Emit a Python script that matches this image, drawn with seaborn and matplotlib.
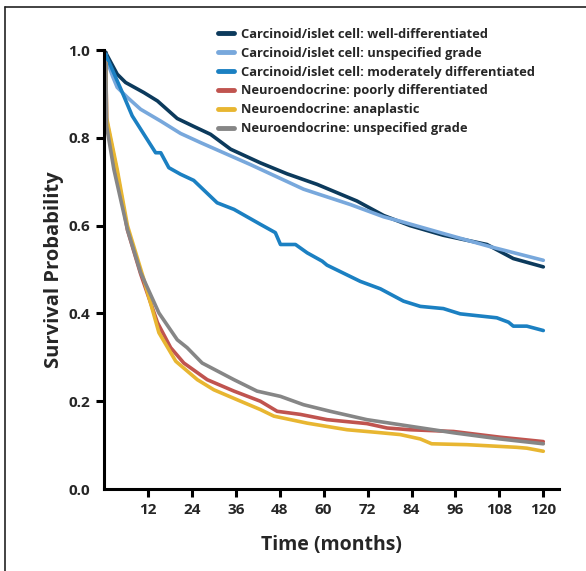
import numpy as np
import pandas as pd
import seaborn as sns
import matplotlib.pyplot as plt
from matplotlib.lines import Line2D

# survival curves (time in months, probability)
well_t = [0.5, 0.7, 3.6, 5.9, 10.9, 14.6, 20, 24.5, 29.1, 34.6, 42.7, 50, 58.2, 69.1, 76.4, 83.6, 92.7, 104.6, 111.8, 120]
well_v = [0.995, 0.99, 0.945, 0.926, 0.903, 0.884, 0.844, 0.826, 0.808, 0.774, 0.743, 0.718, 0.694, 0.656, 0.623, 0.600, 0.578, 0.557, 0.525, 0.506]

unspec_t = [0.5, 0.7, 2.3, 3.6, 6.4, 10, 15.5, 20.9, 26.4, 40, 54.5, 67.3, 76.4, 80.9, 92.7, 105.5, 120]
unspec_v = [0.99, 0.979, 0.941, 0.915, 0.892, 0.865, 0.838, 0.810, 0.789, 0.739, 0.683, 0.648, 0.620, 0.610, 0.582, 0.552, 0.521]

mod_t = [0.5, 0.7, 4.6, 7.7, 10.9, 14.1, 15.5, 17.7, 20.9, 24.5, 30.9, 35.5, 42.7, 46.8, 48.2, 52.3, 55.5, 59.6, 60.9,
         70, 75.5, 81.8, 86.4, 92.7, 97.3, 107.3, 110.5, 111.8, 115.5, 120]
mod_v = [0.99, 0.985, 0.911, 0.850, 0.808, 0.766, 0.766, 0.732, 0.717, 0.703, 0.652, 0.637, 0.603, 0.584, 0.557, 0.557, 0.538, 0.519, 0.510,
         0.473, 0.456, 0.428, 0.416, 0.411, 0.399, 0.390, 0.380, 0.371, 0.371, 0.361]

poor_t = [0.5, 0.7, 3.6, 6.4, 10, 14.6, 18.2, 21.8, 28.2, 35.5, 42.7, 47.3, 53.6, 60.9, 71.8, 77.3, 83.6, 95.5, 108.2, 120]
poor_v = [0.97, 0.84, 0.72, 0.59, 0.49, 0.379, 0.322, 0.287, 0.249, 0.223, 0.200, 0.177, 0.170, 0.158, 0.149, 0.139, 0.135, 0.131, 0.118, 0.108]

anap_t = [0.5, 0.7, 3.6, 6.4, 10.9, 15, 19.6, 25.5, 30, 37.3, 42.7, 46.4, 55.5, 66.4, 74.5, 80.9, 86.4, 89.5, 99.1, 112.7, 115.5, 120]
anap_v = [0.97, 0.846, 0.728, 0.60, 0.477, 0.356, 0.291, 0.249, 0.226, 0.200, 0.181, 0.166, 0.150, 0.135, 0.129, 0.124, 0.114, 0.103, 0.101, 0.095, 0.093, 0.086]

neun_t = [0.5, 0.7, 2.7, 6.4, 10, 15, 20, 22.7, 26.8, 35.5, 41.8, 48.2, 54.5, 61.8, 71.8, 83.6, 95.5, 108.2, 120]
neun_v = [0.97, 0.827, 0.728, 0.591, 0.493, 0.401, 0.340, 0.322, 0.287, 0.249, 0.223, 0.211, 0.192, 0.177, 0.158, 0.143, 0.128, 0.114, 0.103]

groups = [
    "Carcinoid/islet cell: well-differentiated",
    "Carcinoid/islet cell: unspecified grade",
    "Carcinoid/islet cell: moderately differentiated",
    "Neuroendocrine: poorly differentiated",
    "Neuroendocrine: anaplastic",
    "Neuroendocrine: unspecified grade",
]
colors = ["#0c3a5c", "#78a8dc", "#1b80c2", "#c0544f", "#e8b631", "#868686"]

series = [(well_t, well_v), (unspec_t, unspec_v), (mod_t, mod_v),
          (poor_t, poor_v), (anap_t, anap_v), (neun_t, neun_v)]

frames = []
for name, (t, v) in zip(groups, series):
    frames.append(pd.DataFrame({"time": t, "surv": v, "group": name}))
df = pd.concat(frames, ignore_index=True)

sns.set_style("ticks")
plt.rcParams["font.family"] = ["Open Sans", "DejaVu Sans"]

fig = plt.figure(figsize=(5.86, 5.71), dpi=100)
ax = fig.add_axes([0.1775, 0.1436, 0.7765, 0.7688])

sns.lineplot(data=df, x="time", y="surv", hue="group", hue_order=groups,
             palette=colors, linewidth=2.6, estimator=None, sort=False,
             legend=False, ax=ax)

ax.set_xlim(0, 124.3)
ax.set_ylim(0, 1.0)
ax.set_xticks(np.arange(12, 121, 12))
ax.set_yticks([0.0, 0.2, 0.4, 0.6, 0.8, 1.0])
ax.set_yticklabels(["0.0", "0.2", "0.4", "0.6", "0.8", "1.0"])
ax.yaxis.get_major_ticks()[0].tick1line.set_visible(False)

for side in ["top", "right"]:
    ax.spines[side].set_visible(False)
for side in ["left", "bottom"]:
    ax.spines[side].set_linewidth(2.2)
    ax.spines[side].set_color("black")
ax.tick_params(axis="both", width=2.2, length=6, color="black",
               labelsize=11, pad=4)
for lab in ax.get_xticklabels() + ax.get_yticklabels():
    lab.set_fontweight("bold")

ax.set_xlabel("Time (months)", fontsize=14, fontweight="bold", labelpad=13)
ax.set_ylabel("Survival Probability", fontsize=14.5, fontweight="bold", labelpad=3)

handles = [Line2D([0], [0], color=c, linewidth=3.5) for c in colors]
ax.legend(handles, groups, loc="upper left", bbox_to_anchor=(218 / 586, 1 - 28 / 571),
          bbox_transform=fig.transFigure, frameon=False, handlelength=1.2,
          handletextpad=0.55, labelspacing=0.45, borderpad=0, borderaxespad=0,
          prop={"weight": "bold", "size": 9.3})

# frame around the figure (left and top edges visible)
fig.add_artist(Line2D([5 / 586, 5 / 586], [0, 1 - 7 / 571], color="#222222",
                      linewidth=1.2, transform=fig.transFigure))
fig.add_artist(Line2D([5 / 586, 1], [1 - 7 / 571, 1 - 7 / 571], color="#222222",
                      linewidth=1.2, transform=fig.transFigure))

fig.savefig("out.png", dpi=100)
